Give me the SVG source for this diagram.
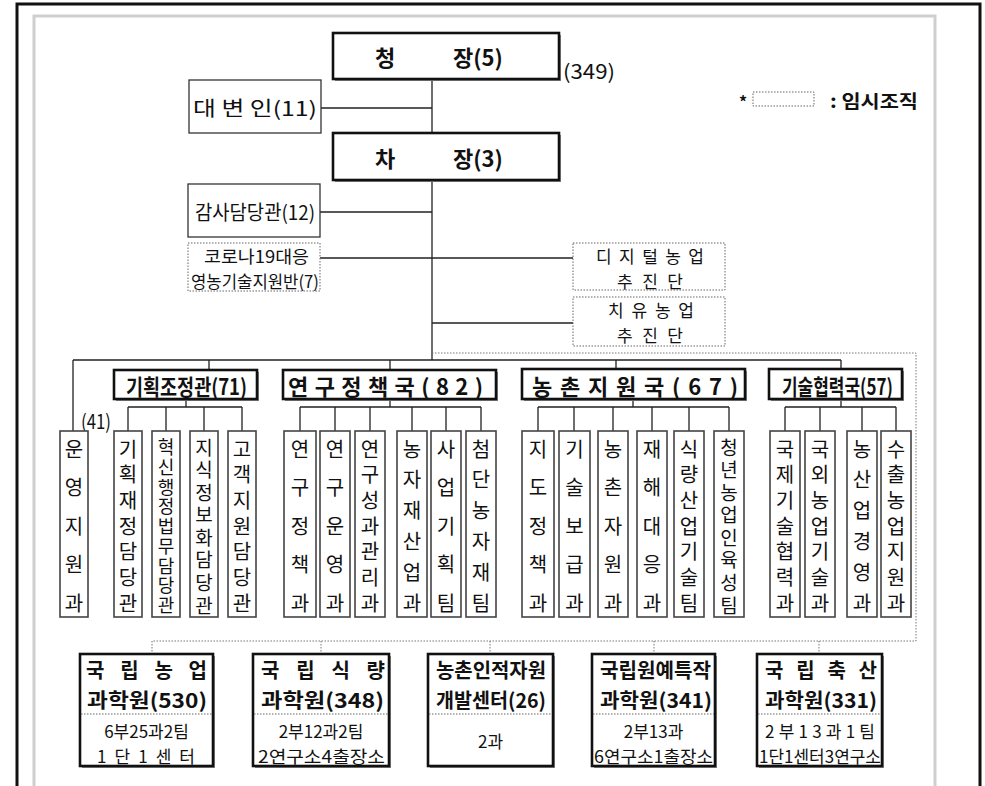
<svg xmlns="http://www.w3.org/2000/svg" width="985" height="786" viewBox="0 0 985 786">
<style>
text{font-family:"Noto Sans CJK KR","Noto Sans",sans-serif;fill:#111}
.box{fill:#fff;stroke:#111;stroke-width:2.6}
.shd{fill:#8a8a8a}
.thin{fill:#fff;stroke:#333;stroke-width:1.3}
.dot{fill:#fff;stroke:#666;stroke-width:1;stroke-dasharray:1.5 1.5}
.col{fill:#fff;stroke:#444;stroke-width:1.6}
.ln{stroke:#222;stroke-width:1.3;fill:none}
.dl{stroke:#777;stroke-width:1;stroke-dasharray:1.5 1.5;fill:none}
.sep{stroke:#666;stroke-width:1;stroke-dasharray:1.5 1.5}
.b{font-weight:700}
.c{dominant-baseline:central}
.m{text-anchor:middle}
.ct{font-size:20px;text-anchor:middle;dominant-baseline:central}
.ct8{font-size:19px;text-anchor:middle;dominant-baseline:central}
.ct9{font-size:18px;text-anchor:middle;dominant-baseline:central}
.lbl{font-size:20px;dominant-baseline:central}
.two{font-size:17px;dominant-baseline:central}
.hd{font-size:22px;font-weight:700;dominant-baseline:central}
.tt{font-size:22px;font-weight:700;dominant-baseline:central}
.tb{font-size:20px;font-weight:700;dominant-baseline:central}
.sub{font-size:17px;dominant-baseline:central}
</style>

<!-- frames -->
<g id="frame">
<path d="M17,786 V4 H980 V786" fill="none" stroke="#111" stroke-width="3"/>
<path d="M34,786 V16 H935 V786" fill="none" stroke="#cfcfcf" stroke-width="3"/>
</g>

<!-- connectors -->
<g id="connectors">
<path class="ln" d="M432,80 V133 M432,180 V360 M321,108 H432 M320,212 H432 M320,258 H573 M432,323 H573"/>
<path class="ln" d="M73,360 H841 M73,360 V431 M209,360 V370 M390,360 V370 M616,360 V369 M841,360 V369"/>
<path class="ln" d="M186,399 V407 M128,407 H242 M128,407 V431 M166,407 V431 M204,407 V431 M242,407 V431"/>
<path class="ln" d="M390,399 V407 M300,407 H481 M300,407 V431 M335,407 V431 M370,407 V431 M412,407 V431 M446,407 V431 M481,407 V431"/>
<path class="ln" d="M633,399 V407 M538,407 H729 M538,407 V431 M574,407 V431 M613,407 V431 M652,407 V431 M689,407 V431 M729,407 V431"/>
<path class="ln" d="M841,399 V407 M785,407 H896 M785,407 V431 M820,407 V431 M862,407 V431 M896,407 V431"/>
<path class="dl" d="M432,353 H916 V641 H152 M152,641 V654 M321,641 V654 M490,641 V654 M654,641 V654 M819,641 V654"/>
</g>

<!-- top -->
<g id="n-chung">
<rect class="shd" x="335" y="35" width="226" height="46"/>
<rect class="box" x="333" y="33" width="226" height="46"/>
<text class="tt" y="56" font-size="25"><tspan x="385" text-anchor="middle">청</tspan><tspan x="453">장(5)</tspan></text>
</g>
<text class="lbl" x="563" y="70" textLength="52" lengthAdjust="spacingAndGlyphs">(349)</text>

<g id="n-daebyun">
<rect class="thin" x="189" y="80" width="132" height="53"/>
<text class="lbl" x="193" y="107" font-size="21" textLength="124" lengthAdjust="spacingAndGlyphs">대 변 인(11)</text>
</g>

<g id="legend">
<text class="b c" x="739" y="101" font-size="16">*</text>
<rect class="dot" x="753" y="92" width="61" height="14"/>
<text class="b c" x="830" y="100" font-size="18" textLength="88" lengthAdjust="spacingAndGlyphs">: 임시조직</text>
</g>

<g id="n-chajang">
<rect class="shd" x="335" y="135" width="226" height="47"/>
<rect class="box" x="333" y="133" width="226" height="47"/>
<text class="tt" y="157" font-size="25"><tspan x="385" text-anchor="middle">차</tspan><tspan x="453">장(3)</tspan></text>
</g>

<g id="n-gamsa">
<rect class="thin" x="188" y="184" width="132" height="53"/>
<text class="lbl" x="195" y="211" font-size="21" textLength="120" lengthAdjust="spacingAndGlyphs">감사담당관(12)</text>
</g>

<g id="n-corona">
<rect class="dot" x="188" y="243" width="132" height="48"/>
<text class="two" x="204" y="255" textLength="105" lengthAdjust="spacingAndGlyphs">코로나19대응</text>
<text class="two" x="191" y="280" textLength="128" lengthAdjust="spacingAndGlyphs">영농기술지원반(7)</text>
</g>

<g id="n-digital">
<rect class="dot" x="573" y="243" width="152" height="47"/>
<text class="two" x="596" y="255" font-size="18" textLength="108" lengthAdjust="spacing">디지털농업</text>
<text class="two" x="617" y="280" font-size="18" textLength="66" lengthAdjust="spacing">추진단</text>
</g>

<g id="n-chiyu">
<rect class="dot" x="573" y="297" width="152" height="49"/>
<text class="two" x="608" y="309" font-size="18" textLength="86" lengthAdjust="spacing">치유농업</text>
<text class="two" x="617" y="334" font-size="18" textLength="66" lengthAdjust="spacing">추진단</text>
</g>

<!-- headers -->
<g id="n-gihoek">
<rect class="shd" x="116" y="372" width="143" height="29"/>
<rect class="box" x="114" y="370" width="143" height="29"/>
<text class="hd" x="126" y="385" textLength="121" lengthAdjust="spacingAndGlyphs">기획조정관(71)</text>
</g>
<g id="n-yeongu">
<rect class="shd" x="285" y="372" width="213" height="29"/>
<rect class="box" x="283" y="370" width="213" height="29"/>
<text class="hd" x="288" y="385" textLength="195" lengthAdjust="spacing">연구정책국(82)</text>
</g>
<g id="n-nongchon">
<rect class="shd" x="524" y="371" width="223" height="30"/>
<rect class="box" x="522" y="369" width="223" height="30"/>
<text class="hd" x="532" y="385" textLength="206" lengthAdjust="spacing">농촌지원국(67)</text>
</g>
<g id="n-gisul">
<rect class="shd" x="771" y="371" width="133" height="30"/>
<rect class="box" x="769" y="369" width="133" height="30"/>
<text class="hd" x="782" y="385" textLength="111" lengthAdjust="spacingAndGlyphs">기술협력국(57)</text>
</g>

<text class="lbl" x="81" y="420" font-size="18" textLength="30" lengthAdjust="spacingAndGlyphs">(41)</text>

<!-- columns -->
<g id="c1"><rect class="col" x="60" y="431" width="28" height="186"/>
<text class="ct" x="74 74 74 74 74" y="448 486.5 525 563.5 602">운영지원과</text></g>
<g id="c2"><rect class="col" x="114" y="431" width="28" height="186"/>
<text class="ct" x="128 128 128 128 128 128 128" y="448 473.7 499.3 525 550.7 576.3 602">기획재정담당관</text></g>
<g id="c3"><rect class="col" x="152" y="431" width="28" height="186"/>
<text class="ct9" x="166 166 166 166 166 166 166 166 166" y="446 465.75 485.5 505.25 525 544.75 564.5 584.25 604">혁신행정법무담당관</text></g>
<g id="c4"><rect class="col" x="190" y="431" width="28" height="186"/>
<text class="ct8" x="204 204 204 204 204 204 204 204" y="446 468.6 491.1 513.7 536.3 558.9 581.4 604">지식정보화담당관</text></g>
<g id="c5"><rect class="col" x="228" y="431" width="28" height="186"/>
<text class="ct" x="242 242 242 242 242 242 242" y="448 473.7 499.3 525 550.7 576.3 602">고객지원담당관</text></g>

<g id="c6"><rect class="col" x="284" y="431" width="32" height="186"/>
<text class="ct" x="300 300 300 300 300" y="448 486.5 525 563.5 602">연구정책과</text></g>
<g id="c7"><rect class="col" x="320" y="431" width="30" height="186"/>
<text class="ct" x="335 335 335 335 335" y="448 486.5 525 563.5 602">연구운영과</text></g>
<g id="c8"><rect class="col" x="355" y="431" width="30" height="186"/>
<text class="ct" x="370 370 370 370 370 370 370" y="448 473.7 499.3 525 550.7 576.3 602">연구성과관리과</text></g>
<g id="c9"><rect class="col" x="397" y="431" width="30" height="186"/>
<text class="ct" x="412 412 412 412 412 412" y="448 478.8 509.6 540.4 571.2 602">농자재산업과</text></g>
<g id="c10"><rect class="col" x="431" y="431" width="30" height="186"/>
<text class="ct" x="446 446 446 446 446" y="448 486.5 525 563.5 602">사업기획팀</text></g>
<g id="c11"><rect class="col" x="466" y="431" width="30" height="186"/>
<text class="ct" x="481 481 481 481 481 481" y="448 478.8 509.6 540.4 571.2 602">첨단농자재팀</text></g>

<g id="c12"><rect class="col" x="522" y="431" width="32" height="186"/>
<text class="ct" x="538 538 538 538 538" y="448 486.5 525 563.5 602">지도정책과</text></g>
<g id="c13"><rect class="col" x="559" y="431" width="31" height="186"/>
<text class="ct" x="574.5 574.5 574.5 574.5 574.5" y="448 486.5 525 563.5 602">기술보급과</text></g>
<g id="c14"><rect class="col" x="598" y="431" width="30" height="186"/>
<text class="ct" x="613 613 613 613 613" y="448 486.5 525 563.5 602">농촌자원과</text></g>
<g id="c15"><rect class="col" x="637" y="431" width="30" height="186"/>
<text class="ct" x="652 652 652 652 652" y="448 486.5 525 563.5 602">재해대응과</text></g>
<g id="c16"><rect class="col" x="674" y="431" width="30" height="186"/>
<text class="ct" x="689 689 689 689 689 689 689" y="448 473.7 499.3 525 550.7 576.3 602">식량산업기술팀</text></g>
<g id="c17"><rect class="col" x="714" y="431" width="30" height="186"/>
<text class="ct8" x="729 729 729 729 729 729 729 729" y="446 468.6 491.1 513.7 536.3 558.9 581.4 604">청년농업인육성팀</text></g>

<g id="c18"><rect class="col" x="770" y="431" width="30" height="186"/>
<text class="ct" x="785 785 785 785 785 785 785" y="448 473.7 499.3 525 550.7 576.3 602">국제기술협력과</text></g>
<g id="c19"><rect class="col" x="805" y="431" width="30" height="186"/>
<text class="ct" x="820 820 820 820 820 820 820" y="448 473.7 499.3 525 550.7 576.3 602">국외농업기술과</text></g>
<g id="c20"><rect class="col" x="847" y="431" width="30" height="186"/>
<text class="ct" x="862 862 862 862 862 862" y="448 478.8 509.6 540.4 571.2 602">농산업경영과</text></g>
<g id="c21"><rect class="col" x="881" y="431" width="30" height="186"/>
<text class="ct" x="896 896 896 896 896 896 896" y="448 473.7 499.3 525 550.7 576.3 602">수출농업지원과</text></g>

<!-- bottom institutes -->
<g id="i1">
<rect class="shd" x="82" y="656" width="133" height="112"/>
<rect class="box" x="80" y="654" width="133" height="112"/>
<line class="sep" x1="81" y1="714" x2="212" y2="714"/>
<text class="tb" x="86" y="669" textLength="121" lengthAdjust="spacing">국립농업</text>
<text class="tb" x="87" y="699" textLength="120" lengthAdjust="spacingAndGlyphs">과학원(530)</text>
<text class="sub m" x="146.5" y="730" font-size="18">6부25과2팀</text>
<text class="sub" x="97" y="755" textLength="98" lengthAdjust="spacing">1단1센터</text>
</g>
<g id="i2">
<rect class="shd" x="255" y="656" width="136" height="112"/>
<rect class="box" x="253" y="654" width="136" height="112"/>
<line class="sep" x1="254" y1="714" x2="388" y2="714"/>
<text class="tb" x="261" y="669" textLength="124" lengthAdjust="spacing">국립식량</text>
<text class="tb" x="261" y="699" textLength="123" lengthAdjust="spacingAndGlyphs">과학원(348)</text>
<text class="sub m" x="321" y="730" font-size="18">2부12과2팀</text>
<text class="sub" x="258" y="755" textLength="127" lengthAdjust="spacingAndGlyphs">2연구소4출장소</text>
</g>
<g id="i3">
<rect class="shd" x="430" y="656" width="125" height="112"/>
<rect class="box" x="428" y="654" width="125" height="112"/>
<line class="sep" x1="429" y1="714" x2="552" y2="714"/>
<text class="tb" x="436" y="669" textLength="110" lengthAdjust="spacingAndGlyphs">농촌인적자원</text>
<text class="tb" x="436" y="699" textLength="110" lengthAdjust="spacingAndGlyphs">개발센터(26)</text>
<text class="sub m" x="490.5" y="740" font-size="19">2과</text>
</g>
<g id="i4">
<rect class="shd" x="594" y="656" width="123" height="112"/>
<rect class="box" x="592" y="654" width="123" height="112"/>
<line class="sep" x1="593" y1="714" x2="714" y2="714"/>
<text class="tb" x="600" y="669" textLength="111" lengthAdjust="spacingAndGlyphs">국립원예특작</text>
<text class="tb" x="600" y="699" textLength="112" lengthAdjust="spacingAndGlyphs">과학원(341)</text>
<text class="sub m" x="653.5" y="730" font-size="18">2부13과</text>
<text class="sub" x="594" y="755" textLength="119" lengthAdjust="spacingAndGlyphs">6연구소1출장소</text>
</g>
<g id="i5">
<rect class="shd" x="759" y="656" width="125" height="112"/>
<rect class="box" x="757" y="654" width="125" height="112"/>
<line class="sep" x1="758" y1="714" x2="881" y2="714"/>
<text class="tb" x="765" y="669" textLength="112" lengthAdjust="spacing">국립축산</text>
<text class="tb" x="765" y="699" textLength="112" lengthAdjust="spacingAndGlyphs">과학원(331)</text>
<text class="sub" x="765" y="730" font-size="18" textLength="110" lengthAdjust="spacing">2부13과1팀</text>
<text class="sub" x="759" y="755" textLength="122" lengthAdjust="spacingAndGlyphs">1단1센터3연구소</text>
</g>
</svg>
